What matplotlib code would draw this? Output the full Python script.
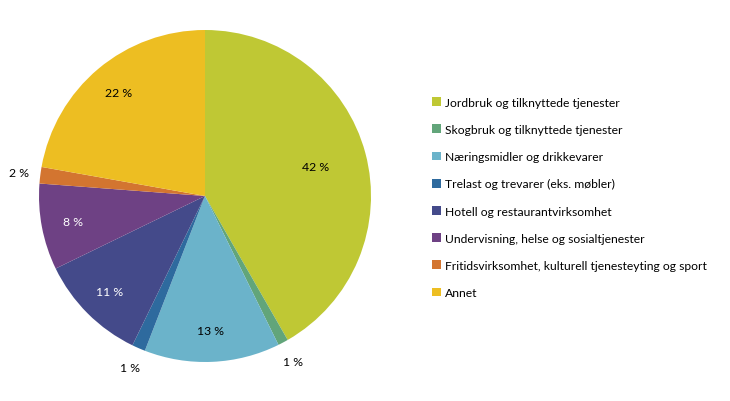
import matplotlib.pyplot as plt
from matplotlib.patches import Patch
import numpy as np

plt.rcParams['font.family'] = ['Lato', 'DejaVu Sans']

categories = [
    'Jordbruk og tilknyttede tjenester',
    'Skogbruk og tilknyttede tjenester',
    'Næringsmidler og drikkevarer',
    'Trelast og trevarer (eks. møbler)',
    'Hotell og restaurantvirksomhet',
    'Undervisning, helse og sosialtjenester',
    'Fritidsvirksomhet, kulturell tjenesteyting og sport',
    'Annet',
]
shares = [41.7, 1.0, 13.2, 1.3, 10.6, 8.4, 1.6, 22.2]
pct_labels = ['42 %', '1 %', '13 %', '1 %', '11 %', '8 %', '2 %', '22 %']
colors = ['#bfc834', '#62a57a', '#6bb3ca', '#2e6a9e',
          '#444a8a', '#6e4184', '#d37530', '#edbe22']
text_colors = ['black', 'black', 'black', 'black', 'white', 'white', 'black', 'black']

fig = plt.figure(figsize=(7.30, 4.02), dpi=100)
ax = fig.add_axes([39 / 730, 39 / 402, 332 / 730, 332 / 402])

wedges, _ = ax.pie(shares, colors=colors, startangle=90, counterclock=False,
                   wedgeprops=dict(linewidth=0))
ax.set_xlim(-1, 1)
ax.set_ylim(-1, 1)
ax.set_aspect('equal')
ax.axis('off')

# prosentetiketter: små andeler utenfor, resten inne i sektoren
for w, lab, tc, s in zip(wedges, pct_labels, text_colors, shares):
    mid = np.deg2rad((w.theta1 + w.theta2) / 2)
    if s < 3:
        r = 1.13
    elif s > 40:
        r = 0.69
    else:
        r = 0.81
    ax.text(r * np.cos(mid), r * np.sin(mid), lab, ha='center', va='center',
            fontsize=8.8, color=tc, clip_on=False)

handles = [Patch(facecolor=c, edgecolor='none') for c in colors]
fig.legend(handles, categories, loc='upper left',
           bbox_to_anchor=(427 / 730, 1 - 93 / 402), frameon=False,
           fontsize=8.7, handlelength=0.75, handleheight=0.75,
           handletextpad=0.35, labelspacing=1.34, borderaxespad=0)

fig.savefig('out.png', dpi=100)
